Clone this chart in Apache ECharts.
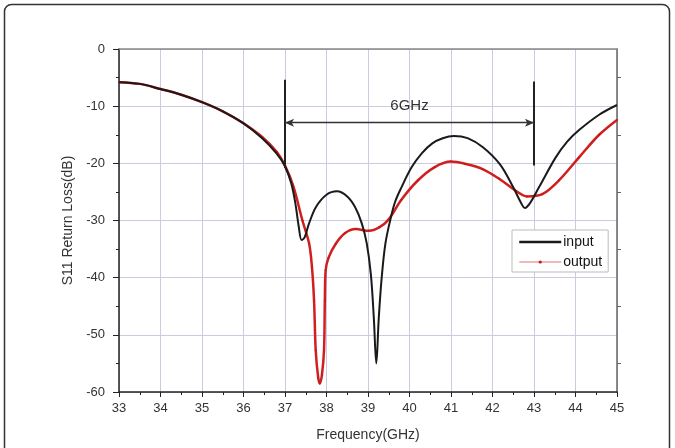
<!DOCTYPE html>
<html>
<head>
	<meta charset="UTF-8">
	<title>S11 Return Loss</title>
	<script type="text/javascript" src="https://cdn.jsdelivr.net/npm/echarts@6/dist/echarts.min.js"></script>
	<style>
		html, body { margin: 0; padding: 0; background: #fff; }
		#chartArea { width: 675px; height: 448px; }
	</style>
</head>
<body>
	<div id="chartArea"></div>
</body>
</html>
<script type="text/javascript">
	// values: [GHz, dB]
	var inputData = [
		[33, -5.8], [33.5, -6.1], [34, -7.0], [34.5, -8.0], [35, -9.3], [35.5, -10.9],
		[36, -13.0], [36.45, -15.6], [36.8, -18.3], [37, -20.5], [37.15, -23.5], [37.25, -27],
		[37.33, -31], [37.4, -33.4], [37.47, -33.0], [37.58, -30.5], [37.75, -27.6], [38, -25.5],
		[38.25, -24.9], [38.5, -25.8], [38.7, -27.8], [38.85, -30.5], [38.97, -34], [39.07, -39.5],
		[39.14, -47], [39.2, -55], [39.26, -47], [39.33, -40], [39.42, -34], [39.55, -29.5],
		[39.65, -26.8], [39.8, -24.3], [40.05, -20.7], [40.3, -18.2], [40.55, -16.5], [40.8, -15.6],
		[41.07, -15.2], [41.4, -15.6], [41.77, -17.2], [42.18, -20.2], [42.5, -24.2], [42.68, -26.8],
		[42.78, -27.8], [42.9, -27.0], [43.12, -24.2], [43.52, -19], [43.8, -16.2], [44.1, -14.1],
		[44.57, -11.5], [45, -9.8]
	];
	var outputData = [
		[33, -5.8], [33.5, -6.1], [34, -7.0], [34.5, -8.0], [35, -9.3], [35.5, -10.9],
		[36, -13.0], [36.45, -15.4], [36.8, -18.0], [37, -20.4], [37.2, -24], [37.42, -30],
		[37.58, -34], [37.65, -38.2], [37.7, -44], [37.74, -52.7], [37.8, -57.5], [37.84, -58.5],
		[37.89, -57], [37.94, -52.7], [37.96, -44], [37.98, -38.7], [38.05, -36.5], [38.22, -34.1],
		[38.45, -32.2], [38.7, -31.5], [39.02, -31.8], [39.27, -31.2], [39.5, -29.8], [39.8, -26.4],
		[40.2, -23], [40.6, -20.7], [41.0, -19.7], [41.35, -20.1], [41.76, -21], [42.16, -22.7],
		[42.56, -24.8], [42.83, -25.8], [43.2, -25.4], [43.6, -23], [44.08, -19], [44.57, -15],
		[45, -12.4]
	];
	var xTicks = [33, 34, 35, 36, 37, 38, 39, 40, 41, 42, 43, 44, 45];
	var yTicks = [0, -10, -20, -30, -40, -50, -60];
	var seriesNames = ['input', 'output'];
	// 6GHz band markers
	var bandStart = 37, bandEnd = 43;
	var bandTop = [-5.4, -5.7], bandBottom = [-20.8, -20.4];
	var arrowLevel = -12.9;

	var FONT = 'Liberation Sans, Arial, sans-serif';
	var myChart = echarts.init(document.getElementById('chartArea'));

	var option = {
		animation: false,
		backgroundColor: '#fff',
		grid: { left: 119, right: 58, top: 49, bottom: 56 },
		graphic: [{
			type: 'rect',
			shape: { x: 4.5, y: 4.5, width: 665, height: 470, r: 7 },
			style: { fill: 'none', stroke: '#333', lineWidth: 1.5 },
			silent: true
		}],
		legend: {
			orient: 'vertical',
			left: 512,
			top: 230,
			data: [
				{ name: seriesNames[0], itemStyle: { opacity: 0 }, lineStyle: { width: 2.5, color: '#1a1a1a' } },
				{ name: seriesNames[1], lineStyle: { width: 1, color: '#e07070' } }
			],
			backgroundColor: '#fff',
			borderColor: '#bbb',
			borderWidth: 1,
			padding: [5, 6, 3, 6],
			itemWidth: 42,
			itemHeight: 4,
			itemGap: 6,
			textStyle: { fontFamily: FONT, fontSize: 14, color: '#111', padding: [0, 0, 0, -3] }
		},
		xAxis: [{
			type: 'value',
			min: xTicks[0],
			max: xTicks[xTicks.length - 1],
			interval: 1,
			name: 'Frequency(GHz)',
			nameLocation: 'middle',
			nameGap: 36,
			nameTextStyle: { fontFamily: FONT, fontSize: 14, color: '#333' },
			axisLine: { onZero: false, lineStyle: { color: '#222', width: 1.5 } },
			axisTick: { inside: false, length: 5, lineStyle: { color: '#222' } },
			minorTick: { show: true, splitNumber: 2, length: 3, lineStyle: { color: '#222' } },
			splitLine: { show: true, lineStyle: { color: '#c9cce0', width: 1 } },
			axisLabel: { fontFamily: FONT, fontSize: 13, color: '#333', margin: 10 }
		}, {
			type: 'value',
			position: 'top',
			min: xTicks[0],
			max: xTicks[xTicks.length - 1],
			interval: 1,
			axisLine: { onZero: false, lineStyle: { color: '#888', width: 1.5 } },
			axisTick: { show: false },
			axisLabel: { show: false },
			splitLine: { show: false }
		}],
		yAxis: [{
			type: 'value',
			min: yTicks[yTicks.length - 1],
			max: yTicks[0],
			interval: 10,
			name: 'S11 Return Loss(dB)',
			nameLocation: 'middle',
			nameGap: 42,
			nameTextStyle: { fontFamily: FONT, fontSize: 14, color: '#333' },
			axisLine: { show: true, onZero: false, lineStyle: { color: '#222', width: 1.5 } },
			axisTick: { show: true, inside: false, length: 6, lineStyle: { color: '#222' } },
			minorTick: { show: true, splitNumber: 2, length: 3, lineStyle: { color: '#222' } },
			splitLine: { show: true, lineStyle: { color: '#c9cce0', width: 1 } },
			axisLabel: { fontFamily: FONT, fontSize: 13, color: '#333', margin: 14 }
		}, {
			type: 'value',
			position: 'right',
			min: yTicks[yTicks.length - 1],
			max: yTicks[0],
			interval: 10,
			axisLine: { show: true, onZero: false, lineStyle: { color: '#666', width: 1.5 } },
			axisTick: { show: false },
			minorTick: { show: true, splitNumber: 2, length: 4, lineStyle: { color: '#666' } },
			axisLabel: { show: false },
			splitLine: { show: false }
		}],
		series: [{
			name: seriesNames[0],
			type: 'line',
			data: inputData,
			smooth: 0.35,
			symbol: 'none',
			lineStyle: { color: '#1a1a1a', width: 2 },
			itemStyle: { color: '#1a1a1a' },
			z: 3,
			markLine: {
				silent: true,
				animation: false,
				label: { show: false },
				lineStyle: { color: '#222', width: 2, type: 'solid' },
				symbol: ['none', 'none'],
				data: [
					[{ coord: [bandStart, bandTop[0]] }, { coord: [bandStart, bandBottom[0]] }],
					[{ coord: [bandEnd, bandTop[1]] }, { coord: [bandEnd, bandBottom[1]] }],
					[
						{ coord: [bandStart, arrowLevel], symbol: 'arrow', symbolSize: [6, 9],
							lineStyle: { width: 1.3, color: '#333' },
							label: { show: true, position: 'middle', formatter: '6GHz', distance: 9,
								fontFamily: FONT, fontSize: 15, color: '#333' } },
						{ coord: [bandEnd, arrowLevel], symbol: 'arrow', symbolSize: [6, 9] }
					]
				]
			}
		}, {
			name: seriesNames[1],
			type: 'line',
			data: outputData,
			smooth: 0.35,
			symbol: 'circle',
			symbolSize: 2,
			showSymbol: true,
			lineStyle: { color: '#d11f1f', width: 2.5 },
			itemStyle: { color: '#c01818' },
			z: 2
		}]
	};
	myChart.setOption(option);
</script>
